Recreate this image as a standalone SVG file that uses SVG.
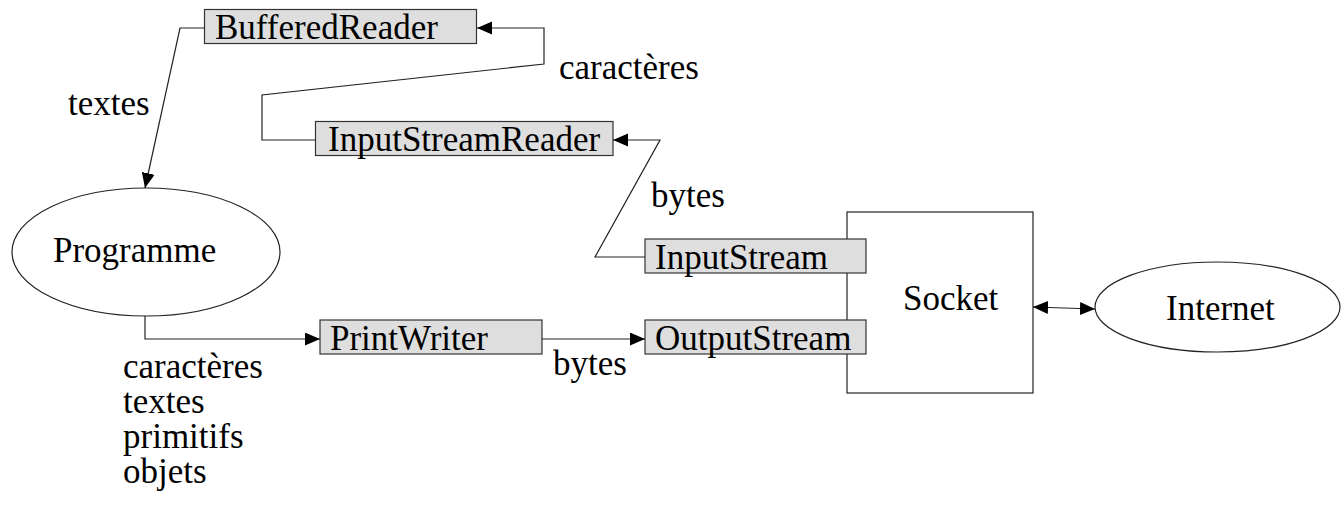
<svg xmlns="http://www.w3.org/2000/svg" width="1343" height="508" viewBox="0 0 1343 508">
<style>
text{font-family:"Liberation Serif","Times New Roman",serif;font-size:35px;fill:#000}
.box{fill:#dedede;stroke:#333;stroke-width:1.2}
.shape{fill:#fff;stroke:#222;stroke-width:1.2}
.edge{fill:none;stroke:#222;stroke-width:1.2}
</style>
<defs>
<marker id="arr" markerUnits="userSpaceOnUse" markerWidth="16" markerHeight="14" refX="15" refY="6.5" orient="auto-start-reverse">
<path d="M0,0 L15,6.5 L0,13 z" fill="#000"/>
</marker>
</defs>
<rect width="1343" height="508" fill="#fff"/>
<g id="socket">
<rect class="shape" x="847" y="212" width="186" height="181"/>
<text x="903" y="310">Socket</text>
</g>
<g id="bufferedreader">
<rect class="box" x="204.5" y="9.5" width="272" height="34"/>
<text x="215" y="39">BufferedReader</text>
</g>
<g id="inputstreamreader">
<rect class="box" x="315.5" y="121.5" width="297.5" height="34"/>
<text x="328" y="151">InputStreamReader</text>
</g>
<g id="inputstream">
<rect class="box" x="645" y="239" width="221" height="34"/>
<text x="655" y="269">InputStream</text>
</g>
<g id="outputstream">
<rect class="box" x="645" y="320" width="221" height="34"/>
<text x="655" y="350">OutputStream</text>
</g>
<g id="printwriter">
<rect class="box" x="320" y="320" width="222" height="34"/>
<text x="330" y="350">PrintWriter</text>
</g>
<g id="programme">
<ellipse class="shape" cx="146" cy="252" rx="134" ry="64"/>
<text x="53" y="262">Programme</text>
</g>
<g id="internet">
<ellipse class="shape" cx="1217.5" cy="307" rx="122.5" ry="45"/>
<text x="1166" y="320">Internet</text>
</g>
<g id="connectors">
<path class="edge" d="M315.5,140 H262 V95 L544,64 V28 H477" marker-end="url(#arr)"/>
<path class="edge" d="M645,257 H595 L660,140 H613" marker-end="url(#arr)"/>
<path class="edge" d="M204.5,28 H180 L145,188" marker-end="url(#arr)"/>
<path class="edge" d="M145,316 V339 H320" marker-end="url(#arr)"/>
<path class="edge" d="M542,339 H645" marker-end="url(#arr)"/>
<path class="edge" d="M1033,307 L1095,309" marker-start="url(#arr)" marker-end="url(#arr)"/>
<text x="68" y="115">textes</text>
<text x="559" y="79">caractères</text>
<text x="651" y="207">bytes</text>
<text x="553" y="375">bytes</text>
<text x="123" y="378">caractères<tspan x="123" dy="35">textes</tspan><tspan x="123" dy="35">primitifs</tspan><tspan x="123" dy="35">objets</tspan></text>
</g>
</svg>
